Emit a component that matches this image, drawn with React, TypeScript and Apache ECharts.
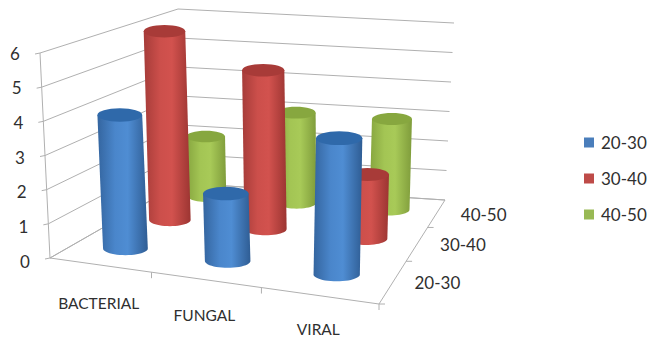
import React, { useEffect, useRef } from "react";
import * as echarts from "echarts";

const categories = ["BACTERIAL", "FUNGAL", "VIRAL"];
const ageGroups = ["20-30", "30-40", "40-50"];
const values2030 = [4, 2, 4];
const values3040 = [6, 5, 2];
const values4050 = [2, 3, 3];
const valueTicks = [0, 1, 2, 3, 4, 5, 6];

const WIDTH = 649;
const HEIGHT = 340;
const MAX_VALUE = 6;
const FONT = "Lato, 'Open Sans', sans-serif";
const TEXT_COLOR = "#2f2f2f";
const LINE_COLOR = "#b0b0b0";

type Pt = [number, number];

// Floor and ceiling corners of the 3D box on screen: front-left, front-right, back-right, back-left.
const floorCorners: Pt[] = [[50, 258], [379, 304], [445, 200], [181, 183]];
const ceilingCorners: Pt[] = [[40, 53], [390, 92], [454, 23], [178, 9]];
// Softens the foreshortening along the category direction.
const CATEGORY_EASE = 0.15;

// Unit square to quad perspective mapping.
function quadMapper([p0, p1, p2, p3]: Pt[]) {
  const sx = p0[0] - p1[0] + p2[0] - p3[0];
  const sy = p0[1] - p1[1] + p2[1] - p3[1];
  const dx1 = p1[0] - p2[0];
  const dx2 = p3[0] - p2[0];
  const dy1 = p1[1] - p2[1];
  const dy2 = p3[1] - p2[1];
  const den = dx1 * dy2 - dx2 * dy1;
  const g = (sx * dy2 - dx2 * sy) / den;
  const k = (dx1 * sy - sx * dy1) / den;
  const a = p1[0] - p0[0] + g * p1[0];
  const b = p3[0] - p0[0] + k * p3[0];
  const d = p1[1] - p0[1] + g * p1[1];
  const e = p3[1] - p0[1] + k * p3[1];
  return (u: number, v: number): Pt => {
    const w = g * u + k * v + 1;
    return [(a * u + b * v + p0[0]) / w, (d * u + e * v + p0[1]) / w];
  };
}

const floorAt = quadMapper(floorCorners);
const ceilingAt = quadMapper(ceilingCorners);

// u: along categories (0..1), v: into the depth (0..1), h: height (0..1).
function project(u: number, v: number, h: number): Pt {
  const eased = u + CATEGORY_EASE * u * (1 - u);
  const f = floorAt(eased, v);
  const c = ceilingAt(eased, v);
  return [f[0] + (c[0] - f[0]) * h, f[1] + (c[1] - f[1]) * h];
}

function line(a: Pt, b: Pt) {
  return {
    type: "line",
    shape: { x1: a[0], y1: a[1], x2: b[0], y2: b[1] },
    style: { stroke: LINE_COLOR, lineWidth: 1 },
    silent: true,
  };
}

function label(text: string, x: number, y: number, fontSize: number) {
  return {
    type: "text",
    style: { text, x, y, fill: TEXT_COLOR, font: `${fontSize}px ${FONT}`, align: "center", verticalAlign: "middle" },
    silent: true,
  };
}

// The grid fills the canvas, so axis pixels convert directly to box fractions.
function toFractions(api: any, category: number, value: number) {
  const [px, py] = api.coord([category, value]);
  return { u: px / WIDTH, h: (HEIGHT - py) / HEIGHT };
}

const palette = [
  {
    body: ["#34659f", "#4a86cb", "#4f8dd3", "#2f5d94"],
    cap: "#2f69aa",
    swatch: "#4a7ebb",
  },
  {
    body: ["#a63c39", "#cc4f4b", "#d2524e", "#9c3532"],
    cap: "#a83b38",
    swatch: "#be4b48",
  },
  {
    body: ["#86a53f", "#a3c554", "#a8ca58", "#7f9c3b"],
    cap: "#87a73f",
    swatch: "#98b954",
  },
];

function cylinder(depthIndex: number) {
  return (_params: any, api: any) => {
    const cat = api.value(0);
    const val = api.value(1);
    const { u, h } = toFractions(api, cat, val);
    const v = (depthIndex + 0.5) / ageGroups.length;
    const [bx, by] = project(u, v, 0);
    const [tx, ty] = project(u, v, h);
    const rowWidth = project(1, v, 0)[0] - project(0, v, 0)[0];
    const rx = 0.072 * rowWidth * (1 + 0.05 * (u - 0.5));
    const ry = rx * 0.3;
    const rim: number[][] = [];
    for (let i = 0; i <= 24; i++) {
      const t = Math.PI - (i / 24) * Math.PI;
      rim.push([bx + rx * Math.cos(t), by + ry * Math.sin(t)]);
    }
    const points = [[tx - rx, ty], ...rim, [tx + rx, ty]];
    const colors = palette[depthIndex];
    return {
      type: "group",
      children: [
        {
          type: "polygon",
          shape: { points },
          style: {
            fill: new echarts.graphic.LinearGradient(0, 0, 1, 0, [
              { offset: 0, color: colors.body[0] },
              { offset: 0.35, color: colors.body[1] },
              { offset: 0.6, color: colors.body[2] },
              { offset: 1, color: colors.body[3] },
            ]),
          },
        },
        {
          type: "ellipse",
          shape: { cx: tx, cy: ty, rx, ry },
          style: { fill: colors.cap },
        },
      ],
    };
  };
}

function renderValueTick(_params: any, api: any) {
  const { h } = toFractions(api, 0, api.value(1));
  const front = project(0, 0, h);
  const back = project(0, 1, h);
  const end = project(1, 1, h);
  return {
    type: "group",
    children: [
      line(front, back),
      line(back, end),
      line([front[0] - 5, front[1] + 1], front),
      label(String(api.value(1)), front[0] - 25, front[1] + 3 - 3 * h, 17),
    ],
  };
}

function renderCategoryLabel(_params: any, api: any) {
  const cat = api.value(0);
  const { u } = toFractions(api, cat, 0);
  const [x, y] = project(u, 0, 0);
  const [tx, ty] = project((cat + 1) / categories.length, 0, 0);
  const children: any[] = [label(categories[cat], x - 1, y + 38 - 2.5 * cat, 15.5)];
  children.push(line([tx, ty], [tx, ty + 6]));
  return { type: "group", children };
}

function renderDepthLabel(_params: any, api: any) {
  const idx = api.value(0);
  const [x, y] = project(1, (idx + 0.5) / ageGroups.length, 0);
  const [tx, ty] = project(1, idx / ageGroups.length, 0);
  return {
    type: "group",
    children: [line([tx, ty], [tx + 6, ty]), label(ageGroups[idx], x + 44 + 1.5 * idx, y + 1, 17)],
  };
}

function renderFloor() {
  const a = project(0, 0, 0);
  const b = project(1, 0, 0);
  const c = project(1, 1, 0);
  const d = project(0, 1, 0);
  const e = project(0, 0, 1);
  return {
    type: "group",
    children: [line(a, b), line(b, c), line(c, d), line(d, a), line(a, e)],
  };
}

const frameBase = {
  type: "custom",
  silent: true,
  z: 1,
  tooltip: { show: false },
};

export default function App() {
  const ref = useRef<HTMLDivElement>(null);

  useEffect(() => {
    const chart = echarts.init(ref.current!, undefined, { renderer: "svg" });
    const rows = [values2030, values3040, values4050];
    chart.setOption({
      animation: false,
      backgroundColor: "#ffffff",
      grid: { left: 0, right: 0, top: 0, bottom: 0 },
      xAxis: { type: "category", data: categories, show: false },
      yAxis: { type: "value", min: 0, max: MAX_VALUE, show: false },
      legend: {
        data: ageGroups,
        orient: "vertical",
        left: 579,
        top: 129,
        icon: "rect",
        itemWidth: 10,
        itemHeight: 10,
        itemGap: 19,
        textStyle: { fontFamily: FONT, fontSize: 17, color: TEXT_COLOR, padding: [0, 0, 0, 2] },
        selectedMode: false,
      },
      series: [
        { ...frameBase, name: "floor", data: [[0, 0]], renderItem: renderFloor },
        {
          ...frameBase,
          name: "value ticks",
          data: valueTicks.map((t) => [0, t]),
          encode: { x: 0, y: 1 },
          renderItem: renderValueTick,
        },
        {
          ...frameBase,
          name: "category labels",
          data: categories.map((_, i) => [i, 0]),
          encode: { x: 0, y: 1 },
          renderItem: renderCategoryLabel,
        },
        {
          ...frameBase,
          name: "depth labels",
          data: ageGroups.map((_, i) => [i, 0]),
          encode: { x: 0, y: 1 },
          renderItem: renderDepthLabel,
        },
        ...ageGroups.map((name, s) => ({
          type: "custom",
          name,
          z: 10 - s,
          itemStyle: { color: palette[s].swatch },
          data: rows[s].map((val, i) => [i, val]),
          encode: { x: 0, y: 1 },
          renderItem: cylinder(s),
        })),
      ],
    });
    return () => chart.dispose();
  }, []);

  return <div ref={ref} style={{ position: "absolute", left: 0, top: 0, width: WIDTH, height: HEIGHT }} />;
}
